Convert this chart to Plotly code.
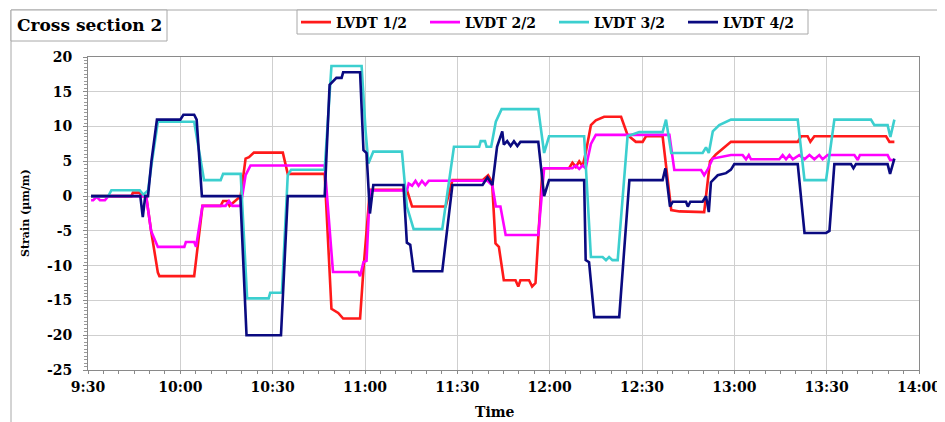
import plotly.graph_objects as go

# time in minutes after 9:30
tick_vals = [0, 30, 60, 90, 120, 150, 180, 210, 240, 270]
tick_text = ["9:30", "10:00", "10:30", "11:00", "11:30", "12:00", "12:30", "13:00", "13:30", "14:00"]
y_tick_vals = [-25, -20, -15, -10, -5, 0, 5, 10, 15, 20]
y_tick_text = ["-25", "-20", "-15", "-10", "-5", "0", "5", "10", "15", "20"]

series_names = ["LVDT 1/2", "LVDT 2/2", "LVDT 3/2", "LVDT 4/2"]
series_colors = ["#FF1A1A", "#FF00FF", "#3CCFCF", "#0A0A80"]

t1 = [1, 14.1, 14.6, 16.8, 17.3, 18.9, 20.5, 22.7, 23.2, 34.5, 37.2, 43.1, 43.9, 45.3, 46, 47.4, 49.6, 51.2, 52.3, 53.9,
      63.3, 64.9, 76.9, 79.1, 81.3, 82.9, 88.4, 89.5, 91.6, 103.6, 105.3, 116.2, 118.4, 128.2, 130, 131.3, 132.4, 133.5,
      135.1, 138.9, 139.8, 140.5, 143.3, 144.3, 145.4, 147.6, 148.2, 156.3, 157.4, 158.5, 159.6, 160.7, 161.7, 163.4,
      165, 167.7, 173.2, 175.3, 178, 180.2, 181.3, 186.7, 189.5, 192.2, 200.2, 202.1, 204, 208.9, 230.6, 231.7, 233.8,
      234.7, 236, 259.3, 260.4, 262]
v1 = [0, 0, 0.5, 0.5, 0, 0, -5, -11, -11.5, -11.5, -1.4, -1.4, -0.7, -0.7, -1.4, -0.9, 0, 5.4, 5.6, 6.25,
      6.25, 3.2, 3.2, -16.2, -16.8, -17.6, -17.6, -10.5, 0.9, 0.9, -1.5, -1.5, 2.3, 2.3, 3, 2, -6.8, -7.3,
      -12.1, -12.1, -13, -12.1, -12.1, -13, -12.5, 3.5, 4, 4, 4.8, 4.2, 5, 4.3, 6.2, 10.2,
      10.9, 11.4, 11.4, 8.8, 7.8, 7.8, 8.6, 8.6, -2, -2.2, -2.3, 5, 6, 7.8, 7.8, 8.6, 8.6,
      7.8, 8.6, 8.6, 7.8, 7.8]

t2 = [1, 1.7, 2.8, 3.9, 5.5, 6.6, 18.9, 20.5, 22.7, 31.3, 31.8, 34.5, 35.1, 37.2, 44.7, 45.8, 46.9, 49.6, 51.2, 52.8,
      76.9, 79.6, 87.8, 88.4, 89.5, 90.5, 91.6, 103.6, 104.2, 105.3, 106.4, 107.4, 108.5, 109.6, 110.7, 129.8, 131.4,
      132.5, 134, 135.7, 146.3, 148.2, 157.4, 158.5, 159.6, 160.7, 161.7, 163.4, 165, 188.9, 190.5, 199.2, 200.2,
      201.3, 203, 208.9, 212.7, 213.8, 214.7, 215.4, 224.6, 225.7, 226.8, 227.9, 229, 231.1, 232.8, 234.4, 236,
      237.6, 238.7, 240.3, 249, 250.1, 250.8, 259.8, 260.6, 262]
v2 = [-0.6, -0.6, -0.1, -0.6, -0.6, 0, 0, -5, -7.3, -7.3, -6.6, -6.6, -7.3, -1.4, -1.4, -0.7, -1.4, -1.4, 3, 4.4,
      4.4, -10.9, -10.9, -11.5, -9.5, -9.3, 0.8, 0.8, 1.8, 1.5, 2.2, 1.5, 2.2, 1.6, 2.2, 2.2, 1.5,
      -1.5, -1.5, -5.6, -5.6, 4, 4, 4.4, 3.9, 4.4, 4, 7.5, 8.8, 8.8, 3.75, 3.75, 3,
      3.8, 5.4, 5.9, 5.9, 5.3, 5.9, 5.3, 5.3, 5.9, 5.3, 5.9, 5.3, 5.9, 5.3, 5.9, 5.3,
      5.9, 5.3, 5.9, 5.9, 5.2, 5.9, 5.9, 5.2, 5.2]

t3 = [1, 6.6, 7.6, 16.8, 18, 19.5, 20.8, 22.7, 34.5, 37.7, 43.1, 43.9, 49.6, 51.7, 58.7, 59.2, 63, 64.9, 66, 76.9,
      79.1, 88.9, 90.2, 91.1, 92.7, 102, 103.6, 105.8, 115.1, 118.9, 127.1, 127.6, 129, 129.5, 131, 132.5, 134.4,
      146.3, 148.2, 149.8, 161.2, 163.4, 167.2, 168.3, 169.3, 170.4, 172.1, 175.3, 179.1, 186.7, 187.8, 189.5,
      199.7, 200.8, 201.7, 203, 205.1, 208.9, 230.6, 232.8, 239.8, 242.5, 254.4, 255.5, 259.8, 260.7, 262]
v3 = [0, 0, 0.85, 0.85, 0.2, 0.8, 5, 10.7, 10.7, 2.3, 2.3, 3.2, 3.2, -14.7, -14.7, -13.9, -13.9, 3, 3.8, 3.8,
      18.7, 18.7, 9.3, 4.7, 6.4, 6.4, -1.5, -4.75, -4.75, 7.1, 7.1, 7.9, 7.9, 7.1, 7.1, 10.7, 12.5,
      12.5, 6.2, 8.6, 8.6, -8.75, -8.75, -9.2, -8.75, -9.2, -9.2, 8.6, 9.2, 9.2, 11, 6.2,
      6.2, 7, 6.2, 9.3, 10.2, 11, 11, 2.3, 2.3, 11, 11, 10.2, 10.2, 8.5, 11]

t4 = [1, 17, 17.8, 18.6, 19.5, 20.6, 22.4, 30, 31, 34.5, 35.3, 37, 49.5, 51.5, 62.7, 64.9, 76.9, 78.5, 80.7, 82.4,
      82.9, 88.4, 89.5, 90.5, 91.6, 92.7, 102.5, 103.6, 104.7, 105.8, 115.1, 118.4, 128.2, 129.8, 131.4, 132.9,
      134.6, 135.1, 136.2, 137.3, 138.4, 139.5, 140.5, 146.3, 148.2, 149.8, 161.2, 161.7, 162.8, 164.5, 172.6,
      175.9, 186.7, 187.6, 189.1, 190, 194.3, 194.9, 195.7, 199.7, 200.8, 201.7, 202.4, 204.6, 207.3, 208.9, 210,
      230.6, 232.8, 239.8, 240.9, 242.5, 247.9, 248.7, 249.5, 259.8, 260.6, 262]
v4 = [0, 0, -3, 0, 0, 5, 11, 11, 11.7, 11.7, 11, 0, 0, -20, -20, 0, 0, 16, 17, 17,
      17.8, 17.8, 6.6, 6.2, -2.5, 1.6, 1.6, -6.7, -7, -10.8, -10.8, 1.6, 1.6, 2.7, 1.6, 7.1,
      9.3, 7.4, 7.9, 7.2, 7.9, 7.2, 7.8, 7.8, 0, 2.3, 2.3, -9.2, -9.5, -17.4, -17.4,
      2.3, 2.3, 4, -1.5, -0.8, -0.8, -1.5, -0.8, -0.8, 0, -2.3, 2, 3, 3.3, 3.8, 4.6,
      4.6, -5.3, -5.3, -5, 4.6, 4.6, 4, 4.6, 4.6, 3.2, 5.4]

chart_title = "Cross section 2"
x_title = "Time"
y_title = "Strain (µm/m)"

FONT = "DejaVu Serif"

fig = go.Figure()
for t, v, name, col in zip([t1, t2, t3, t4], [v1, v2, v3, v4], series_names, series_colors):
    fig.add_trace(go.Scatter(x=t, y=v, mode="lines", name=name,
                             line=dict(color=col, width=2.6)))

# the page body has an 8px margin, so the figure is laid out 8px smaller
OFF = 8
W, H = 945 - OFF, 422 - OFF
L, R, T, B = 88 - OFF, 919 - OFF, 57 - OFF, 370 - OFF
pw, ph = R - L, B - T


def px(x):
    # x given in screen pixels
    return (x - OFF - L) / pw


def py(y):
    return (B - (y - OFF)) / ph


BORDER = "#a8a8a8"

fig.update_layout(
    width=W, height=H,
    margin=dict(l=L, r=W - R, t=T, b=H - B, autoexpand=False),
    paper_bgcolor="white", plot_bgcolor="white",
    font=dict(family=FONT, color="black"),
    showlegend=True,
    legend=dict(orientation="h", x=px(296), y=py(22.5), xanchor="left", yanchor="middle",
                borderwidth=0, bgcolor="rgba(0,0,0,0)",
                font=dict(family=FONT, size=14, weight="bold"),
                entrywidth=84, entrywidthmode="pixels", itemwidth=30,
                tracegroupgap=0),
    xaxis=dict(range=[0, 270], tickmode="array", tickvals=tick_vals, ticktext=tick_text,
               showgrid=True, gridcolor="#cfcfcf", gridwidth=1,
               showline=True, linecolor="#8a8a8a", linewidth=1, mirror=True,
               ticks="outside", ticklen=3, tickcolor="#8a8a8a",
               minor=dict(dtick=5, tick0=0, ticks="outside", ticklen=3, tickcolor="#8a8a8a", showgrid=False),
               tickfont=dict(family=FONT, size=14, weight="bold"),
               ticklabelstandoff=1,
               zeroline=False, automargin=False),
    yaxis=dict(range=[-25, 20], tickmode="array", tickvals=y_tick_vals, ticktext=y_tick_text,
               showgrid=True, gridcolor="#cfcfcf", gridwidth=1,
               showline=True, linecolor="#8a8a8a", linewidth=1, mirror=True,
               ticks="outside", ticklen=4, tickcolor="#8a8a8a",
               minor=dict(dtick=0.5, tick0=0, ticks="outside", ticklen=3, tickcolor="#9a9a9a", showgrid=False),
               tickfont=dict(family=FONT, size=14, weight="bold"),
               ticklabelstandoff=8,
               zeroline=False, automargin=False),
    shapes=[
        dict(type="line", xref="paper", yref="paper", x0=px(11), x1=px(945), y0=py(10), y1=py(10),
             line=dict(color=BORDER, width=1)),
        dict(type="line", xref="paper", yref="paper", x0=px(11), x1=px(11), y0=py(10), y1=py(422),
             line=dict(color=BORDER, width=1)),
        dict(type="rect", xref="paper", yref="paper", x0=px(11), x1=px(167), y0=py(41), y1=py(10),
             line=dict(color=BORDER, width=1), fillcolor="white"),
        dict(type="rect", xref="paper", yref="paper", x0=px(297), x1=px(808), y0=py(34), y1=py(10),
             line=dict(color=BORDER, width=1), fillcolor="white"),
    ],
    annotations=[
        dict(text=chart_title, xref="paper", yref="paper", x=px(89), y=py(25.5),
             xanchor="center", yanchor="middle", showarrow=False,
             font=dict(family=FONT, size=17, weight="bold", color="black")),
        dict(text=y_title, xref="paper", yref="paper", x=px(25), y=py(213),
             xanchor="center", yanchor="middle", showarrow=False, textangle=-90,
             font=dict(family=FONT, size=11, weight="bold", color="black")),
        dict(text=x_title, xref="paper", yref="paper", x=px(495), y=py(412),
             xanchor="center", yanchor="middle", showarrow=False,
             font=dict(family=FONT, size=14, weight="bold", color="black")),
    ],
)

fig.write_html("out.html")
